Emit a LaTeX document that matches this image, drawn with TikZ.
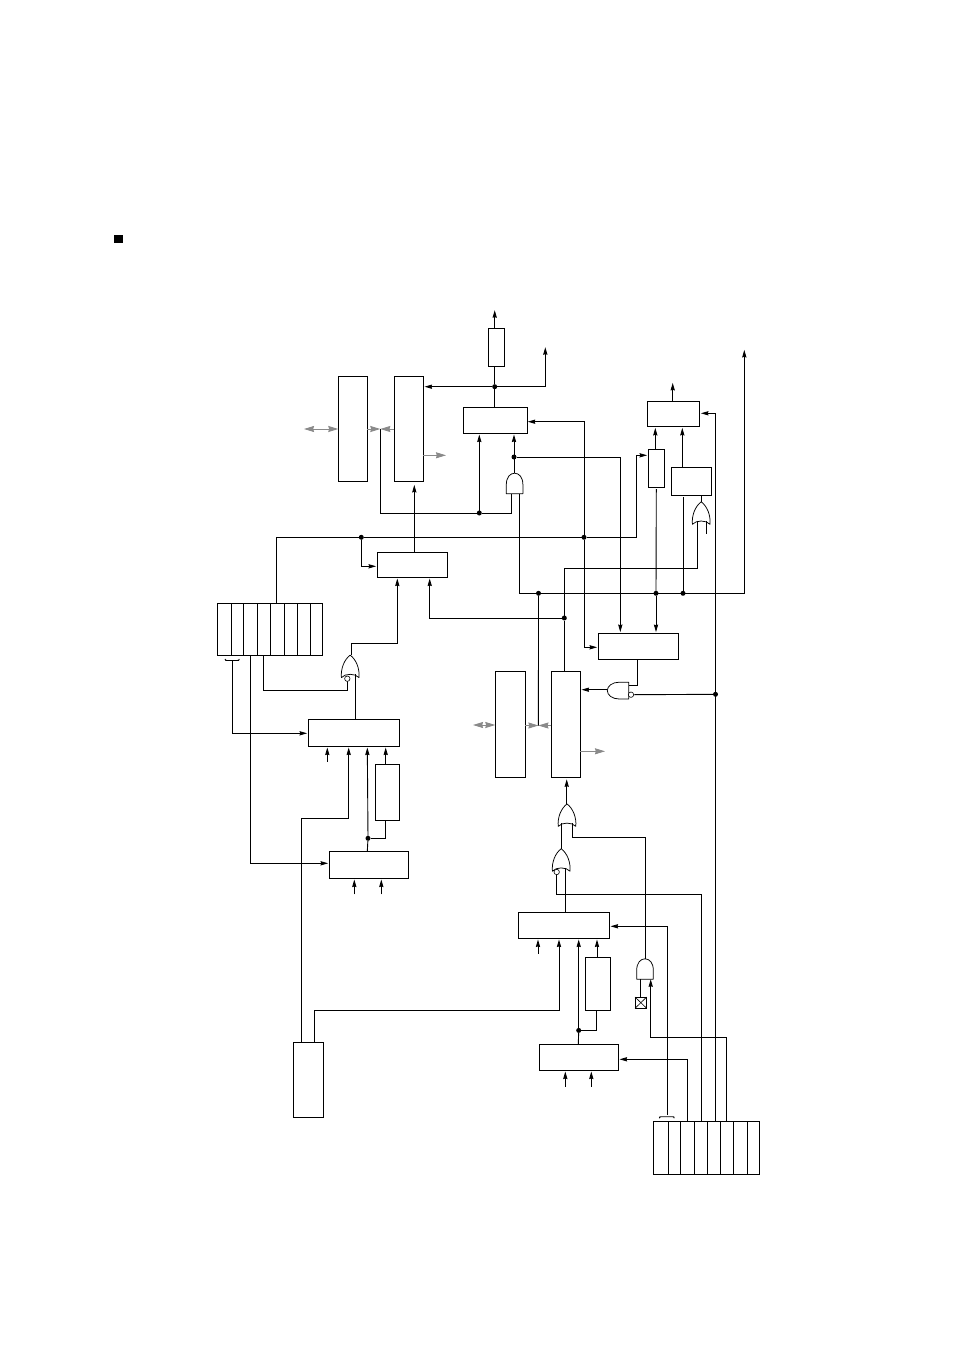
\documentclass[tikz,border=0pt]{standalone}
\usetikzlibrary{arrows.meta,calc}
\definecolor{gr}{HTML}{8A8A8A}
\tikzset{
  wire/.style={line width=0.9pt,line join=miter},
  arr/.style={wire,-{Stealth[length=7.5pt,width=4.2pt,inset=0.6pt]},shorten >=1.2pt},
  bx/.style={draw,line width=0.9pt,rectangle,inner sep=0pt,outer sep=0pt},
  dot/.style={circle,fill=black,inner sep=0pt,outer sep=0pt,minimum size=5pt},
  bub/.style={circle,draw,fill=white,line width=0.6pt,inner sep=0pt,outer sep=0pt,minimum size=5.4pt},
  grl/.style={line width=0.9pt,draw=gr,-{Stealth[length=10pt,width=6pt,inset=0.8pt]}},
  grd/.style={line width=0.9pt,draw=gr,{Stealth[length=10pt,width=6pt,inset=0.8pt]}-{Stealth[length=10pt,width=6pt,inset=0.8pt]}},
  gate/.style={line width=0.75pt,line join=round},
  andgate/.pic={
    \draw[gate] (-8.3,0) -- (-8.3,-9) .. controls (-8.3,-16.5) and (-4.5,-20.5) .. (0,-20.5)
      .. controls (4.5,-20.5) and (8.3,-16.5) .. (8.3,-9) -- (8.3,0) -- cycle;
    \coordinate (-t) at (0,-20.5); \coordinate (-b) at (0,0);
  },
  orgate/.pic={
    \draw[gate] (-8.8,0) .. controls (-9.6,-9) and (-6,-18) .. (0,-22.5)
      .. controls (6,-18) and (9.6,-9) .. (8.8,0)
      .. controls (5,-4.4) and (-5,-4.4) .. cycle;
    \coordinate (-t) at (0,-22.5); \coordinate (-i) at (0,-3.4);
  },
  nandleft/.pic={
    \draw[gate] (0,-8.4) -- (-9.5,-8.4) .. controls (-16.5,-8.4) and (-21.4,-4.5) .. (-21.4,0)
      .. controls (-21.4,4.5) and (-16.5,8.4) .. (-9.5,8.4) -- (0,8.4) -- cycle;
    \coordinate (-o) at (-21.4,0); \coordinate (-f) at (0,0);
  }
}
\newcommand{\bxn}[5]{\node[bx,minimum width={(#4-#2)*1pt},minimum height={(#5-#3)*1pt}] (#1) at ({(#2+#4)/2},{(#3+#5)/2}) {};}
\begin{document}
\begin{tikzpicture}[x=1pt,y=-1pt]
\useasboundingbox (0,0) rectangle (954,1351);
\fill[white] (0,0) rectangle (954,1351);
\node[rectangle,fill=black,inner sep=0pt,outer sep=0pt,minimum size=8.8pt] (bullet) at (118.6,239) {};

% boxes
\bxn{A}{338.3}{376.3}{367.3}{481.3}
\bxn{B}{394.3}{376.3}{423.3}{481.3}
\bxn{RT}{488.3}{328.3}{504.3}{366.3}
\bxn{C}{463.3}{407.3}{527.7}{433.3}
\bxn{D}{377.3}{552.3}{447.3}{577.3}
\bxn{H}{647.3}{401.3}{699.7}{426.7}
\bxn{G}{648.3}{449.3}{664.3}{487.3}
\bxn{I}{671.3}{467.3}{711.7}{495.3}
\bxn{F}{598.3}{633.3}{678.7}{659.3}
\bxn{N}{495.3}{671.3}{525.3}{777.3}
\bxn{O}{551.3}{671.3}{580.3}{777.3}
\bxn{P}{308.3}{719.3}{399.7}{746.3}
\bxn{R}{375.3}{764.3}{399.7}{820.3}
\bxn{Q}{329.3}{851.3}{408.3}{878.3}
\bxn{Z}{293.3}{1042.3}{323.3}{1117.3}
\bxn{L}{518.3}{912.3}{609.3}{938.3}
\bxn{M}{585.3}{957.3}{610.3}{1010.3}
\bxn{K}{539.3}{1044.3}{618.3}{1070.3}
\bxn{X}{635}{997}{646.7}{1008.3}
\draw[line width=0.6pt] (X.north west) -- (X.south east) (X.north east) -- (X.south west);
\bxn{RegA}{217.3}{603.3}{322.3}{655.3}
\foreach \v in {231.7,243.7,257.7,270.7,284.7,297.7,310.7}
  \draw[wire] (\v,0 |- RegA.north) -- (\v,0 |- RegA.south);
\bxn{RegB}{653.3}{1121.3}{759.3}{1174.3}
\foreach \v in {668.3,680.3,694.3,707.3,720.3,733.3,747.3}
  \draw[wire] (\v,0 |- RegB.north) -- (\v,0 |- RegB.south);

% gates
\pic (a1) at (514.6,493.7) {andgate};
\pic (a2) at (645,979.3) {andgate};
\pic (o1) at (350.2,677.6) {orgate};
\pic (o2) at (701.2,524.3) {orgate};
\pic (o3) at (567,826.4) {orgate};
\pic (o4) at (561.2,871.2) {orgate};
\pic (n1) at (628.7,690.6) {nandleft};

% junctions
\node[dot] (j1) at (494.7,386.7) {};
\node[dot] (j2) at (479.3,513) {};
\node[dot] (j3) at (514,457) {};
\node[dot] (j4) at (538.5,593.3) {};
\node[dot] (j5) at (584,537.3) {};
\node[dot] (j6) at (361.3,537.3) {};
\node[dot] (j7) at (656,593.3) {};
\node[dot] (j8) at (683,593.3) {};
\node[dot] (j9) at (564.3,618) {};
\node[dot] (j10) at (715.5,694.3) {};
\node[dot] (j11) at (578.7,1030.4) {};
\node[dot] (j12) at (368,838.3) {};

% free ends
\coordinate (tTop) at (494.7,309);
\coordinate (tA) at (545.3,346);
\coordinate (tB) at (744.3,348.7);
\coordinate (tH) at (672.7,381.7);
\coordinate (gL) at (304,429);
\coordinate (gc1) at (380.3,429);
\coordinate (gout) at (446,455.3);
\coordinate (gL2) at (473,725);
\coordinate (gc2) at (538.4,725.5);
\coordinate (gout2) at (605,751.3);
\coordinate (c744) at (744.3,593.3);
\coordinate (c636) at (636,455.3);
\coordinate (eG) at (656.3,489);
\coordinate (eI) at (683,497);
\coordinate (eO) at (706.3,533.7);
\coordinate (u1) at (327.3,761.7);
\coordinate (u2) at (354.3,894.3);
\coordinate (u3) at (381.3,894.3);
\coordinate (u4) at (538,953.7);
\coordinate (u5) at (565.3,1086.7);
\coordinate (u6) at (591.3,1086.7);

% grey arrows
\draw[grd] (gL) -- (A.west |- gL);
\draw[grl] (A.east |- gc1) -- (gc1);
\draw[grl] (B.west |- gc1) -- (gc1);
\draw[grl] (B.east |- gout) -- (gout);
\draw[grd] (gL2) -- (N.west |- gL2);
\draw[grl] (N.east |- gc2) -- (gc2);
\draw[grl] (O.west |- gc2) -- (gc2);
\draw[grl] (O.east |- gout2) -- (gout2);

% upper section
\draw[wire] (494.7,0 |- C.north) -- (j1) -- (494.7,0 |- RT.south);
\draw[arr] (494.7,0 |- RT.north) -- (tTop);
\draw[arr] (j1) -- (B.east |- j1);
\draw[arr] (j1) -| (tA);
\draw[arr] (j2) -- (479.3,0 |- C.south);
\draw[wire] (gc1) |- (j2) -- (511.3,513) -- (511.3,0 |- a1-b);
\draw[arr] (514,0 |- a1-t) -- (514,0 |- C.south);
\draw[arr] (j3) -| (620.3,0 |- F.north);
\draw[arr] (519.3,0 |- a1-b) |- (c744) -- (tB);
\draw[wire] (j4) -- (gc2);
\draw[wire] (276,0 |- RegA.north) |- (j6) -- (j5) -- (636,537.3) -- (c636);
\draw[arr] (c636) -- (G.west |- c636);
\draw[arr] (j6) |- (D.west |- 0,566.3);
\draw[arr,shorten >=0pt] (j5) |- (C.east |- 0,421.7);
\draw[arr] (j5) |- (F.west |- 0,647.3);
\draw[arr,shorten >=3.6pt] (414.3,0 |- D.north) -- (414.3,0 |- B.south);
\draw[arr] (j7) -- (656,0 |- F.north);
\draw[wire] (j7) -- (eG);
\draw[wire] (j8) -- (eI);
\draw[arr] (655.3,0 |- G.north) -- (655.3,0 |- H.south);
\draw[arr] (682.3,0 |- I.north) -- (682.3,0 |- H.south);
\draw[arr] (672.7,0 |- H.north) -- (tH);
\draw[wire] (701.7,0 |- o2-t) -- (701.7,0 |- I.south);
\draw[wire] (697.3,0 |- o2-i) |- (564.3,568.3) -- (j9) -- (564.3,0 |- O.north);
\draw[arr] (j9) -| (429.7,0 |- D.south);
\draw[wire] (706.3,0 |- o2-i) -- (eO);
\draw[arr] (715.3,0 |- RegB.north) |- (H.east |- 0,413.3);
\draw[wire] (637.3,0 |- F.south) |- (n1-f |- 0,685.3);
\draw[arr] (n1-o |- 0,689.7) -- (O.east |- 0,689.7);

% lower centre
\draw[arr,shorten >=2pt] (566.7,0 |- o3-t) -- (566.7,0 |- O.south);
\draw[wire] (561.7,0 |- o3-i) -- (561.7,0 |- o4-t);
\draw[wire] (572.3,0 |- o3-i) |- (645.3,837.3) -- (645.3,0 |- a2-t);
\draw[wire] (565.3,0 |- o4-i) -- (565.3,0 |- L.north);
\draw[wire] (556.7,872) |- (701.7,894.3) -- (701.7,0 |- RegB.north);
\draw[wire] (640.3,0 |- a2-b) -- (640.3,0 |- X.north);
\draw[arr,shorten >=0pt] (726.3,0 |- RegB.north) |- (650.7,1037.7) -- (650.7,0 |- a2-b);
\draw[arr] (667.3,1115) |- (L.east |- 0,926.3);
\draw[arr] (687.3,0 |- RegB.north) |- (K.east |- 0,1059.3);
\draw[wire] (659.3,1118.2) .. controls (659.7,1116.7) .. (661.5,1116.7) -- (672,1116.7) .. controls (673.9,1116.7) .. (674.3,1118.2);
\draw[wire] (578.3,0 |- K.north) -- (j11);
\draw[arr] (j11) -- (578.7,0 |- L.south);
\draw[wire] (596.7,0 |- M.south) |- (j11);
\draw[arr] (597,0 |- M.north) -- (597,0 |- L.south);
\draw[arr] (u4) -- (538,0 |- L.south);
\draw[arr] (u5) -- (565.3,0 |- K.south);
\draw[arr] (u6) -- (591.3,0 |- K.south);
\draw[arr] (314.3,0 |- Z.north) |- (559,1010.3) -- (559,0 |- L.south);

% left section
\draw[arr] (301.3,0 |- Z.north) |- (348.7,818.3) -- (348.7,0 |- P.south);
\draw[wire] (367.3,0 |- Q.north) -- (j12);
\draw[arr] (j12) -- (367.3,0 |- P.south);
\draw[wire] (385.7,0 |- R.south) |- (j12);
\draw[arr] (385.7,0 |- R.north) -- (385.7,0 |- P.south);
\draw[arr] (u1) -- (327.3,0 |- P.south);
\draw[arr] (u2) -- (354.3,0 |- Q.south);
\draw[arr] (u3) -- (381.3,0 |- Q.south);
\draw[arr] (250.3,0 |- RegA.south) |- (Q.west |- 0,863.3);
\draw[arr] (232.3,660.5) |- (P.west |- 0,733.3);
\draw[wire] (225,659) .. controls (225.5,660.5) .. (227.5,660.5) -- (237,660.5) .. controls (238.9,660.5) .. (239.3,659);
\draw[wire] (263.7,0 |- RegA.south) |- (347.3,690) -- (347.3,678.7);
\draw[wire] (355.3,0 |- P.north) -- (355.3,0 |- o1-i);
\draw[arr] (351.3,0 |- o1-t) |- (397.3,643.3) -- (397.3,0 |- D.south);

% inversion bubbles (on top of their wires)
\node[bub] (b1) at (347.3,678.7) {};
\node[bub] (b4) at (556.7,872) {};
\node[bub] (b5) at (631,694.7) {};
\draw[wire] (b5.east) -- (j10);
\end{tikzpicture}
\end{document}
